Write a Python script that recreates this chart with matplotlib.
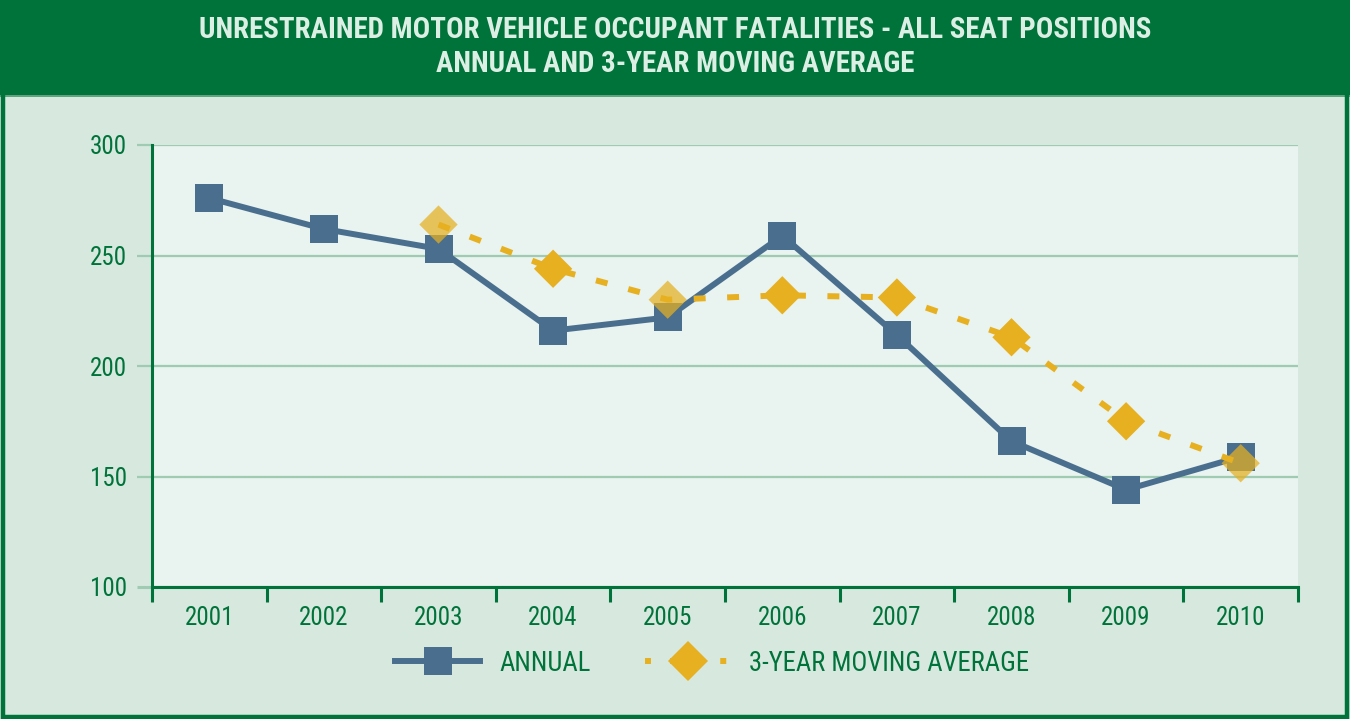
import matplotlib
matplotlib.use("Agg")
import matplotlib.pyplot as plt
from matplotlib import font_manager as fm
from matplotlib.lines import Line2D
from matplotlib.patches import Rectangle
from matplotlib.colors import to_rgba

# ---- data ----
years = ["2001", "2002", "2003", "2004", "2005", "2006", "2007", "2008", "2009", "2010"]
annual = [276, 262, 253, 216, 222, 259, 214, 166, 144, 159]
moving_avg = [None, None, 264, 244, 230, 232, 231, 213, 175, 156]
avg_marker_alpha = [1, 1, 0.72, 1, 0.72, 1, 1, 1, 1, 0.72]
y_ticks = [100, 150, 200, 250, 300]
title_lines = ["UNRESTRAINED MOTOR VEHICLE OCCUPANT FATALITIES - ALL SEAT POSITIONS",
               "ANNUAL AND 3-YEAR MOVING AVERAGE"]
legend_labels = ["ANNUAL", "3-YEAR MOVING AVERAGE"]

# ---- style ----
DARK = "#00733a"
PANEL = "#d7e8df"
PLOTBG = "#e9f3ef"
GRID = "#9ecbb2"
BLUE = "#4a6f8e"
GOLD = "#e6b021"
TITLE_TXT = "#dcefe4"

available = {f.name for f in fm.fontManager.ttflist}
narrow = None
for cand in ["Liberation Sans Narrow", "Arial Narrow", "Roboto Condensed", "Archivo Narrow"]:
    if cand in available:
        narrow = cand
        break
if narrow is not None:
    FONT = [narrow, "Liberation Sans", "DejaVu Sans"]
    fscale = 1.0
else:
    FONT = ["Liberation Sans", "DejaVu Sans"]
    fscale = 0.86
plt.rcParams["font.family"] = FONT
TICK_FS = 18 * fscale
LEG_FS = 19.2 * fscale
TITLE_FS = 20.9 * fscale

W, H = 1350, 719
fig = plt.figure(figsize=(W / 100, H / 100), dpi=100, facecolor=PANEL)

# title band
fig.patches.append(Rectangle((0, 1 - 95 / H), 1, 95 / H, transform=fig.transFigure,
                             facecolor=DARK, edgecolor="none", zorder=0))
fig.patches.append(Rectangle((0, 1 - 96.5 / H), 1, 1.5 / H, transform=fig.transFigure,
                             facecolor="#5fa47e", edgecolor="none", zorder=1))
# outer frame
fig.patches.append(Rectangle((2.5 / W, 2.5 / H), 1 - 6 / W, 1 - 4 / H, transform=fig.transFigure,
                             facecolor="none", edgecolor=DARK, linewidth=3.2, zorder=2))

fig.text(0.5, 1 - 30 / H, title_lines[0], ha="center", va="center", color=TITLE_TXT,
         fontsize=TITLE_FS, fontweight="bold")
fig.text(0.5, 1 - 64 / H, title_lines[1], ha="center", va="center", color=TITLE_TXT,
         fontsize=TITLE_FS, fontweight="bold")

ax = fig.add_axes([152 / W, 1 - 587 / H, (1298 - 152) / W, (587 - 145) / H])
ax.set_facecolor(PLOTBG)
x = list(range(len(years)))

ax.set_xlim(-0.5, len(years) - 0.5)
ax.set_ylim(y_ticks[0], y_ticks[-1])
ax.set_yticks(y_ticks)
ax.set_yticklabels([str(v) for v in y_ticks])
ax.set_xticks(x)
ax.set_xticklabels(years)
ax.set_xticks([i - 0.5 for i in range(len(years) + 1)], minor=True)

ax.tick_params(axis="x", which="major", length=0, pad=14, labelsize=TICK_FS, labelcolor=DARK)
ax.tick_params(axis="x", which="minor", length=10.5, width=2.2, color=DARK, direction="out")
ax.tick_params(axis="y", which="major", length=11, width=1.6, color=GRID, pad=7,
               labelsize=TICK_FS, labelcolor=DARK)
ax.yaxis.get_major_ticks()[0].tick1line.set_color(DARK)
ax.yaxis.get_major_ticks()[0].tick1line.set_markeredgewidth(2.2)

ax.grid(axis="y", color=GRID, linewidth=1.6, zorder=0)
ax.set_axisbelow(True)
for s in ["top", "right"]:
    ax.spines[s].set_visible(False)
for s in ["left", "bottom"]:
    ax.spines[s].set_color(DARK)
    ax.spines[s].set_linewidth(2.2)
    ax.spines[s].set_zorder(5)

# annual series
ax.plot(x, annual, color=BLUE, linewidth=4.3, marker="s", markersize=19.5,
        markerfacecolor=BLUE, markeredgecolor=BLUE, markeredgewidth=0, zorder=3,
        solid_joinstyle="miter")

# moving average series
avg_x = [xi for xi, v in zip(x, moving_avg) if v is not None]
avg_y = [v for v in moving_avg if v is not None]
avg_a = [a for a, v in zip(avg_marker_alpha, moving_avg) if v is not None]
ax.plot(avg_x, avg_y, color=GOLD, linewidth=4.3, linestyle=(0, (2.0, 3.6)), zorder=4,
        dash_capstyle="butt")
ax.scatter(avg_x, avg_y, marker="D", s=19.5 ** 2,
           c=[to_rgba(GOLD, a) for a in avg_a], edgecolors="none", zorder=4.5)

handles = [
    Line2D([], [], color=BLUE, linewidth=4.3, marker="s", markersize=19.5, markeredgewidth=0),
    Line2D([], [], color=GOLD, linewidth=4.3, linestyle=(0, (1.0, 3.2)), marker="D",
           markersize=20.5, markeredgewidth=0),
]
leg = ax.legend(handles, legend_labels, loc="center", bbox_to_anchor=(0.489, -0.172),
                ncol=2, frameon=False, fontsize=LEG_FS, handlelength=3.18 / fscale,
                handletextpad=0.71 / fscale, columnspacing=2.06 / fscale, numpoints=1)
for t in leg.get_texts():
    t.set_color(DARK)

fig.savefig("out.png", dpi=100, facecolor=PANEL)
